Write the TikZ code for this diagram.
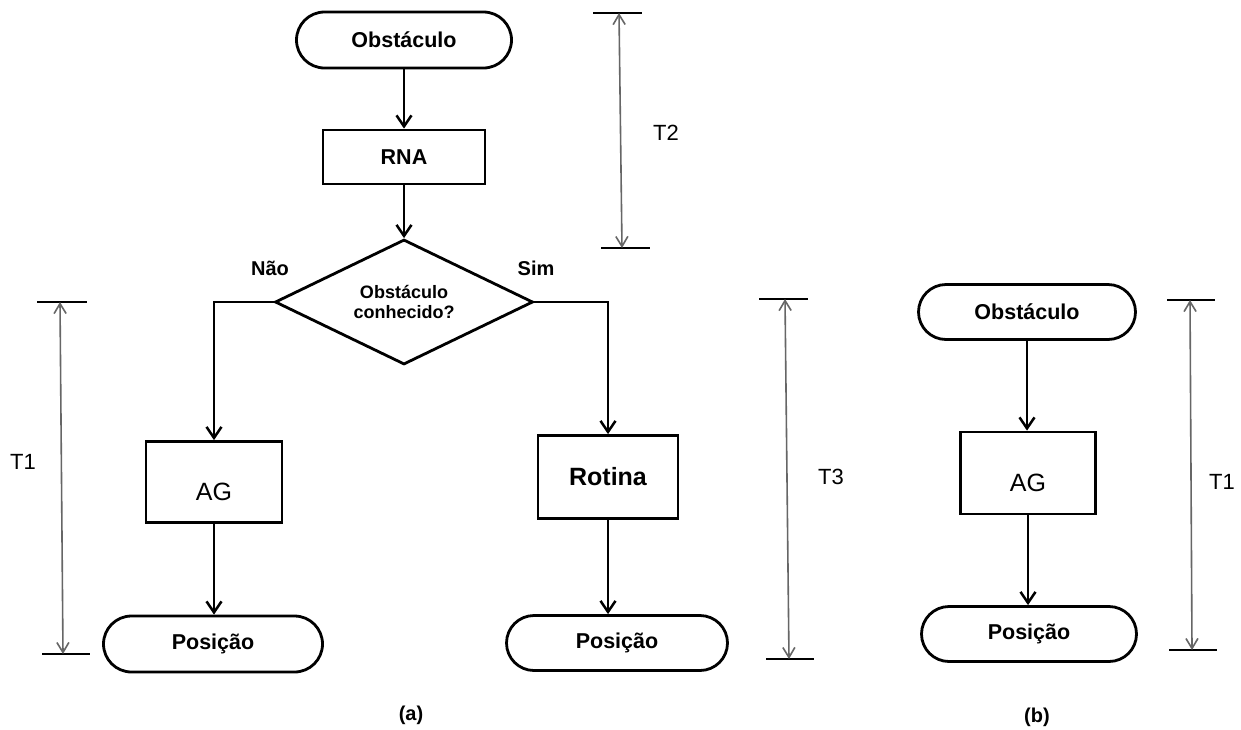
\documentclass[tikz,border=0pt]{standalone}
\usepackage{fontspec}
\setmainfont{Liberation Sans}
\usetikzlibrary{arrows.meta,shapes.geometric,shapes.misc}

\begin{document}
\begin{tikzpicture}[x=1pt,y=-1pt,
  term/.style={draw,line width=2.8pt,rounded rectangle,inner sep=0pt,
    font=\fontsize{21.5}{25}\selectfont\bfseries},
  proc/.style={draw,line width=2.8pt,rectangle,inner sep=0pt},
  lowtext/.style={text height=36pt,text depth=0pt},
  decision/.style={draw,line width=2.8pt,diamond,aspect=2,inner sep=0pt,
    minimum width=258pt,minimum height=125pt,align=center,
    font=\fontsize{18}{19.5}\selectfont\bfseries},
  flow/.style={line width=2.5pt,-{Straight Barb[length=11pt,width=15pt,line width=2.5pt]}},
  span/.style={color=black!60,line width=1.6pt,
    {Straight Barb[length=10pt,width=12pt,line width=1.6pt]}-{Straight Barb[length=10pt,width=12pt,line width=1.6pt]}},
  bar/.style={line width=1.5pt},
  lbl/.style={font=\fontsize{22}{26}\selectfont},
  blbl/.style={font=\fontsize{20}{24}\selectfont\bfseries}
]
\fill[white] (0,0) rectangle (1241,729);
\useasboundingbox (0,0) rectangle (1241,729);

% ---------- (a) full flowchart ----------
\node[term,minimum width=215pt,minimum height=56pt] (obs) at (404,40) {Obstáculo};
\node[proc,minimum width=162pt,minimum height=54pt,font=\fontsize{21.5}{25}\selectfont\bfseries] (rna) at (404,157) {RNA};
\node[decision] (dec) at (404,302) {Obstáculo\\conhecido?};
\node[proc,lowtext,minimum width=136pt,minimum height=81pt,font=\fontsize{25}{29}\selectfont] (ag) at (214,482) {AG};
\node[proc,minimum width=140pt,minimum height=83pt,font=\fontsize{25}{29}\selectfont\bfseries] (rot) at (608,477) {Rotina};
\node[term,minimum width=219pt,minimum height=56pt] (posA) at (213,644) {Posição};
\node[term,minimum width=221pt,minimum height=55pt] (posB) at (617,643) {Posição};

\node[blbl] (nao) at (270,268) {Não};
\node[blbl] (sim) at (536,268) {Sim};

\draw[flow] (obs.south) -- (rna.north);
\draw[flow] (rna.south) -- (dec.north);
\draw[flow] (dec.west) -| (ag.north);
\draw[flow] (dec.east) -| (rot.north);
\draw[flow] (ag.south) -- (ag.south |- posA.north);
\draw[flow] (rot.south) -- (rot.south |- posB.north);

% time spans of (a)
\coordinate (t2a) at (619,13);
\coordinate (t2b) at (622,248);
\draw[bar] (593,13) -- (642,13);
\draw[bar] (601,248) -- (650,248);
\draw[span] (t2a) -- (t2b);
\node[lbl] (t2) at (666,133) {T2};

\coordinate (t1a) at (60,302);
\coordinate (t1b) at (63,654);
\draw[bar] (37,302) -- (87,302);
\draw[bar] (42,654) -- (90,654);
\draw[span] (t1a) -- (t1b);
\node[lbl] (t1) at (23,462) {T1};

\coordinate (t3a) at (785,299);
\coordinate (t3b) at (789,659);
\draw[bar] (759,299) -- (808,299);
\draw[bar] (766,659) -- (814,659);
\draw[span] (t3a) -- (t3b);
\node[lbl] (t3) at (831,477) {T3};

\node[blbl] (capA) at (411,715) {(a)};

% ---------- (b) reduced flowchart ----------
\node[term,minimum width=217pt,minimum height=55pt] (obsR) at (1027,312) {Obstáculo};
\node[proc,lowtext,minimum width=135pt,minimum height=82pt,font=\fontsize{25}{29}\selectfont] (agR) at (1028,473) {AG};
\node[term,minimum width=215pt,minimum height=55pt] (posR) at (1029,634) {Posição};

\draw[flow] (obsR.south) -- (obsR.south |- agR.north);
\draw[flow] (agR.south) -- (agR.south |- posR.north);

\coordinate (t1c) at (1190,300);
\coordinate (t1d) at (1192,650);
\draw[bar] (1167,300) -- (1215,300);
\draw[bar] (1169,650) -- (1217,650);
\draw[span] (t1c) -- (t1d);
\node[lbl] (t1r) at (1222,482) {T1};

\node[blbl] (capB) at (1037,717) {(b)};
\end{tikzpicture}
\end{document}
